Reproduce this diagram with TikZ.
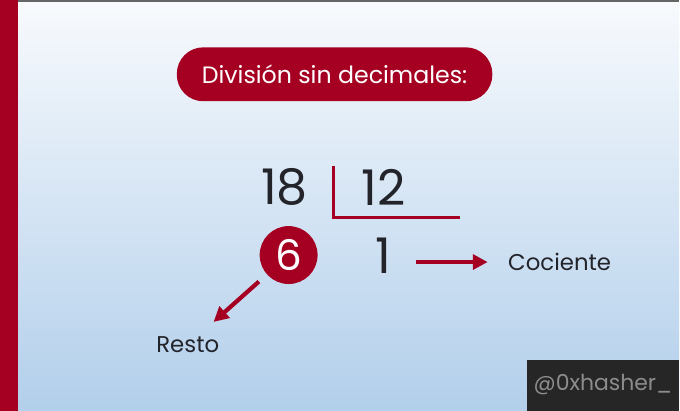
\documentclass[tikz,border=0pt]{standalone}
\usepackage{fontspec}
\setmainfont{Poppins}
\usetikzlibrary{positioning, calc, arrows.meta}
\definecolor{divred}{RGB}{165,0,33}
\definecolor{bgtop}{RGB}{248,250,253}
\definecolor{bgbot}{RGB}{178,207,235}
\definecolor{markbg}{RGB}{38,38,38}
\definecolor{markfg}{RGB}{140,140,140}
\definecolor{numfg}{RGB}{35,36,42}

\begin{document}
\begin{tikzpicture}[
            x=0.02cm, y=-0.02cm,
            num/.style={font=\fontsize{28}{28}\selectfont, text=numfg, inner sep=0pt},
            lbl/.style={font=\fontsize{13}{13}\selectfont, text=numfg, inner sep=2pt},
            pill/.style={rectangle, rounded corners=0.53cm, fill=divred, text=white, minimum width=6.32cm, minimum height=1.08cm, font=\fontsize{13.5}{13.5}\selectfont},
            rest/.style={circle, fill=divred, text=white, minimum size=1.16cm, inner sep=0pt, font=\fontsize{24}{24}\selectfont},
            handlebox/.style={rectangle, fill=markbg, text=markfg, minimum width=3.04cm, minimum height=1.02cm, font=\fontsize{12.5}{12.5}\selectfont},
            arr/.style={-{Triangle[length=8.5pt, width=8.5pt]}, line width=2.4pt, divred},
            bracket/.style={divred, line width=1.6pt}
        ]
            % --- Background ---
            \shade[top color=bgtop, bottom color=bgbot] (0,0) rectangle (680,411);
            \fill[divred] (0,0) rectangle (18,411);
            \draw[gray!80!black, line width=1pt] (18,0.5) -- (680,0.5);

            % --- Node Placement ---
            \node[pill] (title) at (335,74) {División sin decimales:};
            \node[num] (dividend) at (285,187) {18};
            \node[num] (divisor) at (384,187) {12};
            \node[rest] (remainder) at (289,255) {6};
            \node[num] (quot) at (384,256) {1};
            \node[lbl, anchor=west] (cociente) at (505,262) {Cociente};
            \node[lbl] (resto) at (188,345) {Resto};
            \node[handlebox, anchor=south east] (handle) at (680,411) {@0xhasher\_};

            % --- Division Bracket ---
            \draw[bracket] (334,166) -- (334,217) -- (461,217);

            % --- Arrows ---
            \draw[arr, shorten <=14pt, shorten >=9.5pt] (quot.east |- cociente.west) -- (cociente.west);
            \draw[arr, shorten <=6pt, shorten >=9.5pt] (remainder) -- (resto);

        \end{tikzpicture}
\end{document}
